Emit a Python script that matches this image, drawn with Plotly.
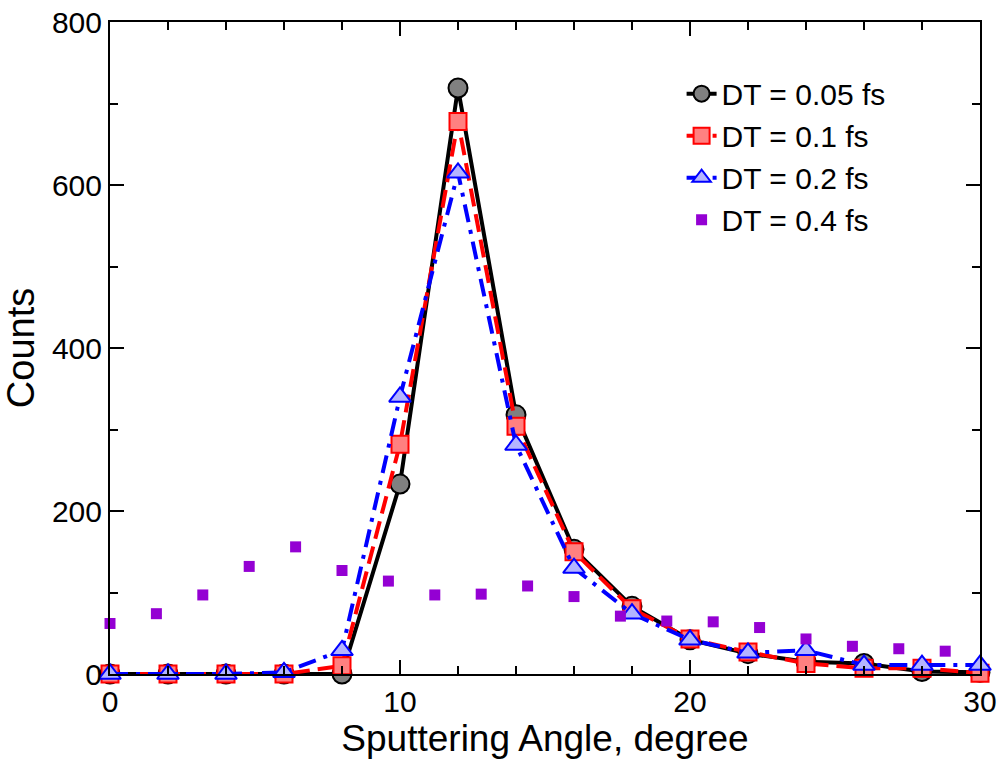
import plotly.graph_objects as go

angle = [0, 2, 4, 6, 8, 10, 12, 14, 16, 18, 20, 22, 24, 26, 28, 30]
dt005 = [0, 0, 0, 0, 0, 233, 719, 318, 153, 83, 42, 25, 15, 13, 3, 2]
dt01 = [0, 0, 0, 0, 10, 282, 678, 304, 150, 80, 43, 27, 13, 7, 7, 1]
dt02 = [0, 0, 0, 2, 29, 340, 615, 281, 130, 74, 42, 26, 29, 11, 11, 11]

angle04 = [0, 1.6, 3.2, 4.8, 6.4, 8.0, 9.6, 11.2, 12.8, 14.4, 16.0, 17.6,
           19.2, 20.8, 22.4, 24.0, 25.6, 27.2, 28.8]
dt04 = [62, 74, 97, 132, 156, 127, 114, 97, 98, 108, 95, 71, 65, 64, 57, 43,
        34, 31, 28]

names = ["DT = 0.05 fs", "DT = 0.1 fs", "DT = 0.2 fs", "DT = 0.4 fs"]

FONT = "Liberation Sans, Arial, sans-serif"

fig = go.Figure()
fig.add_trace(go.Scatter(
    x=angle, y=dt005, name=names[0], mode="lines+markers",
    line=dict(color="black", width=4),
    marker=dict(symbol="circle", size=19, color="#808080",
                line=dict(color="black", width=2)),
    cliponaxis=False))
fig.add_trace(go.Scatter(
    x=angle, y=dt01, name=names[1], mode="lines+markers",
    line=dict(color="#ff0000", width=4, dash="18px,8px"),
    marker=dict(symbol="square", size=17, color="#ff8080",
                line=dict(color="#ff0000", width=2)),
    cliponaxis=False))
fig.add_trace(go.Scatter(
    x=angle, y=dt02, name=names[2], mode="lines+markers",
    line=dict(color="#0000ff", width=4, dash="18px,8px,4px,8px"),
    marker=dict(symbol="triangle-up", size=19, color="#b4b4ff",
                line=dict(color="#0000ff", width=2)),
    cliponaxis=False))
fig.add_trace(go.Scatter(
    x=angle04, y=dt04, name=names[3], mode="markers",
    marker=dict(symbol="square", size=11, color="#9400d3",
                line=dict(width=0)),
    cliponaxis=False))

axis_common = dict(
    showline=True, linecolor="black", linewidth=2, mirror="ticks",
    ticks="inside", tickcolor="black", tickwidth=2, ticklen=14,
    showgrid=False, zeroline=False, automargin=False,
    tickfont=dict(family=FONT, size=30, color="black"),
)

fig.update_xaxes(
    range=[0, 30], dtick=10, tick0=0,
    title=dict(text="Sputtering Angle, degree", standoff=0,
               font=dict(family=FONT, size=37, color="black")),
    minor=dict(dtick=2, ticks="inside", ticklen=8, tickcolor="black",
               tickwidth=2, showgrid=False),
    **axis_common)
fig.update_yaxes(
    range=[0, 800], dtick=200, tick0=0,
    title=dict(text="Counts",
               font=dict(family=FONT, size=38, color="black")),
    minor=dict(dtick=100, ticks="inside", ticklen=8, tickcolor="black",
               tickwidth=2, showgrid=False),
    **axis_common)

fig.update_layout(
    width=1006, height=760,
    margin=dict(l=110, r=26, t=22, b=86),
    plot_bgcolor="white", paper_bgcolor="white",
    showlegend=True,
    legend=dict(x=0.657, y=0.93, xanchor="left", yanchor="top",
                bgcolor="rgba(255,255,255,0)", borderwidth=0,
                font=dict(family=FONT, size=30, color="black")),
)

fig.write_html("out.html",
               config={"displayModeBar": False},
               post_script="document.body.style.margin='0';"
                           "document.body.style.overflow='hidden';")
